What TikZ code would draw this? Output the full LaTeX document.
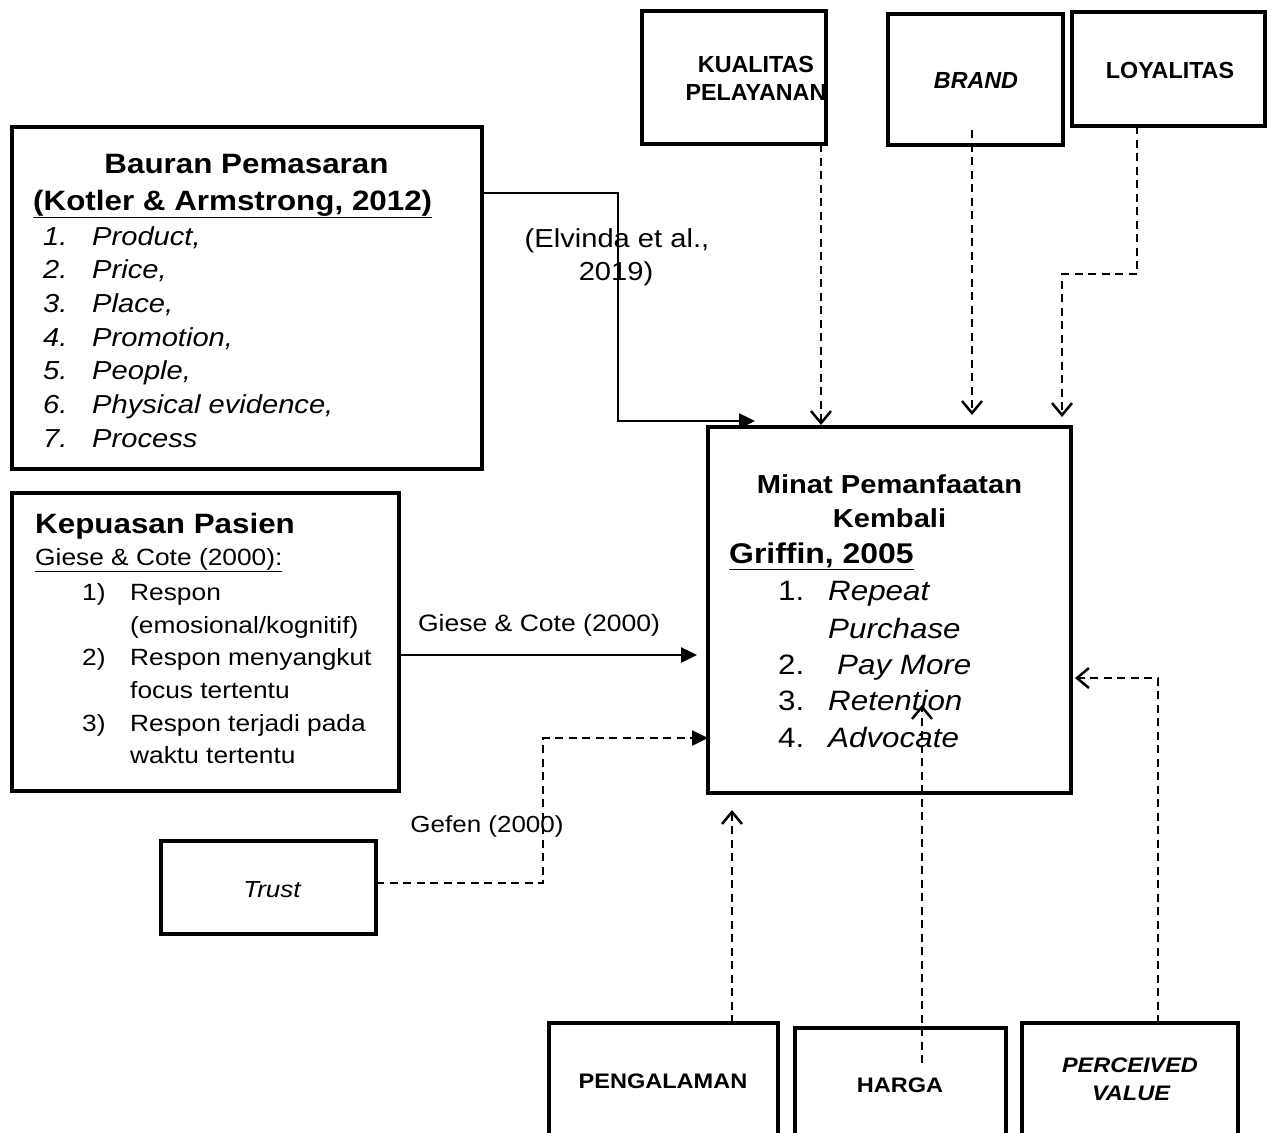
\documentclass[tikz,border=0pt]{standalone}
\usepackage{fontspec}
\setmainfont[FakeStretch=1.12]{Liberation Sans}
\newfontfamily\plainsans{Liberation Sans}
\usetikzlibrary{arrows.meta}
\tikzset{
  box/.style={draw, line width=3.5pt, anchor=north west, inner sep=0pt, outer sep=0pt},
  lbl/.style={inner sep=0pt, anchor=base},
  lblw/.style={inner sep=0pt, anchor=base west},
  solidarr/.style={line width=2.5pt, -{Triangle[length=16pt,width=15pt]}},
  dasharr/.style={line width=2.5pt, dash pattern=on 8pt off 5.5pt, -{Straight Barb[length=12pt,width=20pt]}},
  dashfill/.style={line width=2.5pt, dash pattern=on 8pt off 5.5pt, -{Triangle[length=16pt,width=15pt]}},
  fbig/.style={font=\bfseries\fontsize{28}{34}\selectfont},
  fitem/.style={font=\itshape\fontsize{26}{30}\selectfont},
  fmid/.style={font=\fontsize{23.5}{28}\selectfont},
  ftop/.style={font=\plainsans\bfseries\fontsize{23.3}{28}\selectfont},
  fbot/.style={font=\bfseries\fontsize{21}{25}\selectfont},
}
\begin{document}
\begin{tikzpicture}[x=1pt,y=-1pt]
\clip (0,0) rectangle (1267,1133);
\fill[white] (0,0) rectangle (1267,1133);

% boxes
\node[box, minimum width=470pt, minimum height=342pt] (bauran) at (12,127) {};
\node[box, minimum width=387pt, minimum height=298pt] (kepuasan) at (12,493) {};
\node[box, minimum width=184pt, minimum height=133pt] (kualitas) at (642,11) {};
\node[box, minimum width=175pt, minimum height=131pt] (brand) at (888,14) {};
\node[box, minimum width=193pt, minimum height=114pt] (loyalitas) at (1072,12) {};
\node[box, minimum width=363pt, minimum height=366pt] (minat) at (708,427) {};
\node[box, minimum width=215pt, minimum height=93pt] (trust) at (161,841) {};
\node[box, minimum width=229pt, minimum height=130pt] (pengalaman) at (549,1023) {};
\node[box, minimum width=211pt, minimum height=130pt] (harga) at (795,1028) {};
\node[box, minimum width=216pt, minimum height=130pt] (perceived) at (1022,1023) {};

% Bauran Pemasaran
\node[lbl, fbig] (bt1) at (246.5,173) {Bauran Pemasaran};
\node[lblw, fbig] (bt2) at (33,210) {\underline{(Kotler \& Armstrong, 2012)}};
\foreach \t [count=\i] in {{Product,},{Price,},{Place,},{Promotion,},{People,},{Physical evidence,},{Process}} {
  \node[lblw, fitem] (bn\i) at (43,{245+33.7*(\i-1)}) {\i.};
  \node[lblw, fitem] (bi\i) at (92,{245+33.7*(\i-1)}) {\t};
}

% Kepuasan Pasien
\node[lblw, fbig] (kt1) at (35,533) {Kepuasan Pasien};
\node[lblw, fmid] (kt2) at (35,565) {\underline{Giese \& Cote (2000):}};
\node[lblw, fmid] (kn1) at (82,600) {1)};
\node[lblw, fmid] (kn2) at (82,665) {2)};
\node[lblw, fmid] (kn3) at (82,731) {3)};
\node[lblw, fmid] (ki1) at (130,600) {Respon};
\node[lblw, fmid] (ki2) at (130,633) {(emosional/kognitif)};
\node[lblw, fmid] (ki3) at (130,665) {Respon menyangkut};
\node[lblw, fmid] (ki4) at (130,698) {focus tertentu};
\node[lblw, fmid] (ki5) at (130,731) {Respon terjadi pada};
\node[lblw, fmid] (ki6) at (130,763) {waktu tertentu};

% Minat Pemanfaatan Kembali
\node[lbl, font=\bfseries\fontsize{26}{30}\selectfont] (mt1) at (889.5,493) {Minat Pemanfaatan};
\node[lbl, font=\bfseries\fontsize{26}{30}\selectfont] (mt2) at (889.5,527) {Kembali};
\node[lblw, font=\bfseries\fontsize{28.5}{34}\selectfont] (mt3) at (729,563) {\underline{Griffin, 2005}};
\foreach \n/\y in {1/600,2/674,3/710,4/747}
  \node[lblw, font=\fontsize{28}{34}\selectfont] (mn\n) at (778,\y) {\n.};
\node[lblw, font=\itshape\fontsize{28}{34}\selectfont] (mi1) at (828,600) {Repeat};
\node[lblw, font=\itshape\fontsize{28}{34}\selectfont] (mi1b) at (828,638) {Purchase};
\node[lblw, font=\itshape\fontsize{28}{34}\selectfont] (mi2) at (837,674) {Pay More};
\node[lblw, font=\itshape\fontsize{28}{34}\selectfont] (mi3) at (828,710) {Retention};
\node[lblw, font=\itshape\fontsize{28}{34}\selectfont] (mi4) at (828,747) {Advocate};

% top boxes
\node[lbl, ftop] (kq1) at (756,72) {KUALITAS};
\node[lbl, ftop] (kq2) at (756,100) {PELAYANAN};
\node[lbl, font=\plainsans\bfseries\itshape\fontsize{23.3}{28}\selectfont] (br) at (976,88) {BRAND};
\node[lbl, ftop] (ly) at (1170,78) {LOYALITAS};

% bottom boxes
\node[lbl, fbot] (pg) at (663,1088) {PENGALAMAN};
\node[lbl, fbot] (hg) at (900,1092) {HARGA};
\node[lbl, font=\bfseries\itshape\fontsize{21}{25}\selectfont] (pv1) at (1130,1072) {PERCEIVED};
\node[lbl, font=\bfseries\itshape\fontsize{21}{25}\selectfont] (pv2) at (1131,1100) {VALUE};

% trust and labels
\node[lbl, font=\itshape\fontsize{23.2}{28}\selectfont] (tr) at (272,897) {Trust};
\node[lbl, font=\fontsize{23.2}{28}\selectfont] (gefen) at (487,832) {Gefen (2000)};
\node[lbl, font=\fontsize{23.7}{28}\selectfont] (giese) at (539,631) {Giese \& Cote (2000)};
\node[lbl, font=\fontsize{26}{33}\selectfont] (elv1) at (617,247) {(Elvinda et al.,};
\node[lbl, font=\fontsize{26}{33}\selectfont] (elv2) at (616,280) {2019)};

% connectors
\draw[solidarr] ([yshift=105pt]bauran.east) -| (618,421) -- ([xshift=47pt,yshift=6pt]minat.north west);
\draw[dasharr] ([xshift=87pt]kualitas.south) -- ([xshift=-68.5pt,yshift=2pt]minat.north);
\draw[dasharr] ([xshift=-3.5pt,yshift=15pt]brand.south) -- ([xshift=82.5pt,yshift=12pt]minat.north);
\draw[dasharr] ([xshift=-31.5pt]loyalitas.south) -- ++(0,148) -| ([xshift=172.5pt,yshift=10pt]minat.north);
\draw[solidarr] ([yshift=-13pt]kepuasan.east) -- ([xshift=-11pt,yshift=-45pt]minat.west);
\draw[dashfill] ([yshift=4.5pt]trust.east) -| (543,738) -- ([yshift=-128pt]minat.west);
\draw[dasharr] ([xshift=68.5pt]pengalaman.north) -- ([xshift=-157.5pt,yshift=-17pt]minat.south);
\draw[dasharr] ([xshift=21.5pt,yshift=-35pt]harga.north) -- ([xshift=32.5pt,yshift=88pt]minat.south);
\draw[dasharr] ([xshift=28pt]perceived.north) |- ([xshift=4pt,yshift=-68pt]minat.east);
\end{tikzpicture}
\end{document}
